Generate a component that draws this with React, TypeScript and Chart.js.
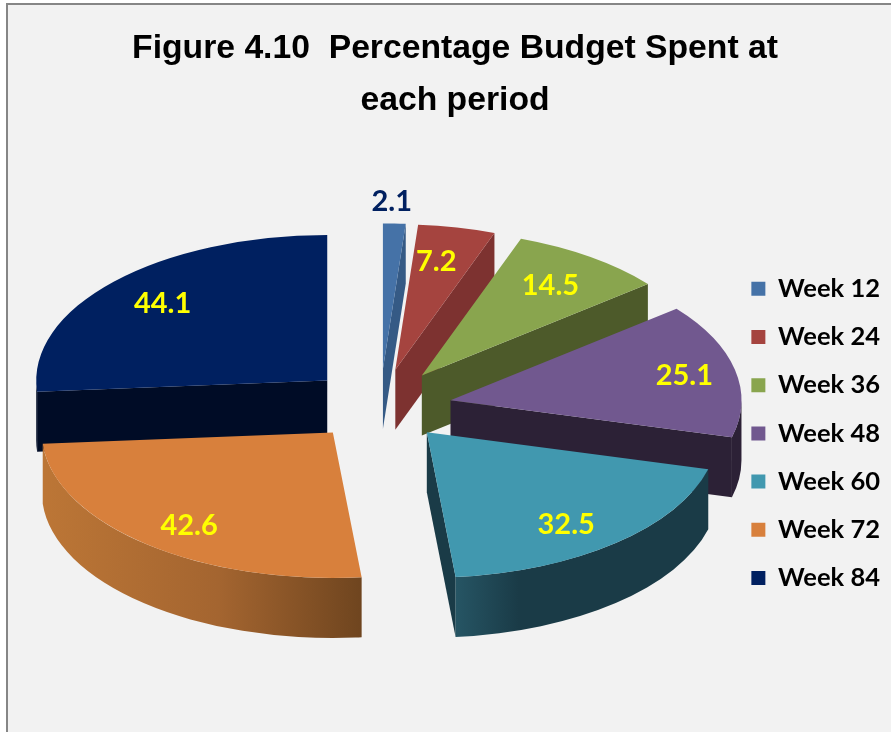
import React, { useEffect, useRef } from "react";
import { Chart, registerables } from "chart.js";

Chart.register(...registerables);

const categories = ["Week 12", "Week 24", "Week 36", "Week 48", "Week 60", "Week 72", "Week 84"];
const values = [2.1, 7.2, 14.5, 25.1, 32.5, 42.6, 44.1];
const topColors = ["#4572A7", "#A5443F", "#89A54E", "#71588F", "#4198AF", "#D8803C", "#002060"];
const sideColors = ["#355A85", "#7D3230", "#4D5A2A", "#2C2136", "#1A3B47", "#8A5527", "#000C26"];
const curveStops: [number, string][][] = [
  [[0, "#355A85"], [1, "#355A85"]],
  [[0, "#7D3230"], [1, "#7D3230"]],
  [[0, "#4D5A2A"], [1, "#4D5A2A"]],
  [[0, "#2C2136"], [1, "#2C2136"]],
  [[0, "#265564"], [0.25, "#1A3B47"], [1, "#1A3B47"]],
  [[0, "#BC7636"], [0.55, "#A46530"], [1, "#6F451F"]],
  [[0, "#000C26"], [1, "#000C26"]],
];
const labelColors = ["#002060", "#FFFF00", "#FFFF00", "#FFFF00", "#FFFF00", "#FFFF00", "#FFFF00"];
const labelNudge = [[0, -54], [-7, 3], [-3, 3], [12, -1], [-8, 6], [2, 6], [2, 0]];
const sliceNudge = [[0, 0], [0, 0], [0, 0], [0, 3], [0, 0], [-1, 0], [0, 0]];

const TILT = 0.5;
const EXPLODE = 72;
const DEPTH = 60;
const LIFT = -28.5;
const SHIFT = 5.75;
const drawOrder = [6, 0, 1, 2, 3, 4, 5];

const pie3d = {
  id: "pie3d",
  beforeDatasetsDraw(chart: any) {
    const ctx: CanvasRenderingContext2D = chart.ctx;
    const arcs = chart.getDatasetMeta(0).data;
    const place = (arc: any, i: number) => {
      const mid = (arc.startAngle + arc.endAngle) / 2;
      return {
        mid,
        x: arc.x + SHIFT + EXPLODE * Math.cos(mid) + sliceNudge[i][0],
        y: arc.y + LIFT + TILT * EXPLODE * Math.sin(mid) + sliceNudge[i][1],
      };
    };
    for (const i of drawOrder) {
      const arc = arcs[i];
      const { x, y } = place(arc, i);
      const r = arc.outerRadius;
      const ry = r * TILT;
      const a = arc.startAngle;
      const b = arc.endAngle;
      const face = (ang: number) => {
        const px = x + r * Math.cos(ang);
        const py = y + ry * Math.sin(ang);
        ctx.fillStyle = sideColors[i];
        ctx.beginPath();
        ctx.moveTo(x, y);
        ctx.lineTo(px, py);
        ctx.lineTo(px, py + DEPTH);
        ctx.lineTo(x, y + DEPTH);
        ctx.closePath();
        ctx.fill();
      };
      if (Math.cos(a) < 0) face(a);
      if (Math.cos(b) > 0) face(b);
      const c0 = Math.max(a, 0);
      const c1 = Math.min(b, Math.PI);
      if (c1 > c0) {
        const xR = x + r * Math.cos(c0);
        const xL = x + r * Math.cos(c1);
        const g = ctx.createLinearGradient(xL, 0, xR, 0);
        curveStops[i].forEach(([o, c]) => g.addColorStop(o, c));
        ctx.fillStyle = g;
        ctx.beginPath();
        ctx.ellipse(x, y, r, ry, 0, c0, c1);
        ctx.ellipse(x, y + DEPTH, r, ry, 0, c1, c0, true);
        ctx.closePath();
        ctx.fill();
      }
      ctx.save();
      ctx.translate(x, y);
      ctx.scale(1, TILT);
      ctx.translate(-arc.x, -arc.y);
      arc.draw(ctx);
      ctx.restore();
    }
    ctx.save();
    ctx.font = "bold 29px Lato";
    ctx.textAlign = "center";
    ctx.textBaseline = "middle";
    arcs.forEach((arc: any, i: number) => {
      const { x, y, mid } = place(arc, i);
      const d = arc.outerRadius * 0.78;
      ctx.fillStyle = labelColors[i];
      ctx.fillText(
        String(values[i]),
        x + d * Math.cos(mid) + labelNudge[i][0],
        y + d * TILT * Math.sin(mid) + labelNudge[i][1]
      );
    });
    ctx.restore();
    return false;
  },
};

export default function App() {
  const ref = useRef<HTMLCanvasElement>(null);
  useEffect(() => {
    const chart = new Chart(ref.current!, {
      type: "pie",
      data: {
        labels: categories,
        datasets: [
          {
            data: values,
            backgroundColor: topColors,
            borderWidth: 0,
            radius: 291,
          } as any,
        ],
      },
      plugins: [pie3d as any],
      options: {
        responsive: false,
        animation: false,
        devicePixelRatio: 1,
        layout: { padding: { left: 12, right: 12, top: 0, bottom: 0 } },
        plugins: {
          tooltip: { enabled: false },
          title: {
            display: true,
            text: ["Figure 4.10  Percentage Budget Spent at", "each period"],
            color: "#000000",
            font: { family: "'Liberation Sans'", size: 33.7, weight: "bold", lineHeight: 1.54 },
            padding: { top: 18, bottom: 8 },
          },
          legend: {
            position: "right",
            fullSize: false,
            labels: {
              color: "#000000",
              boxWidth: 14,
              boxHeight: 14,
              padding: 22.7,
              font: { family: "Lato", size: 25.5, weight: "bold" },
            },
          },
        },
      },
    });
    return () => chart.destroy();
  }, []);
  return (
    <div style={{ position: "fixed", inset: 0, overflow: "hidden", background: "#ffffff" }}>
      <div
        style={{
          position: "absolute",
          left: 6,
          top: 3,
          width: 894,
          height: 760,
          border: "2px solid #868686",
          background: "#F2F2F2",
        }}
      >
        <canvas ref={ref} width={894} height={727} style={{ display: "block" }} />
      </div>
    </div>
  );
}
